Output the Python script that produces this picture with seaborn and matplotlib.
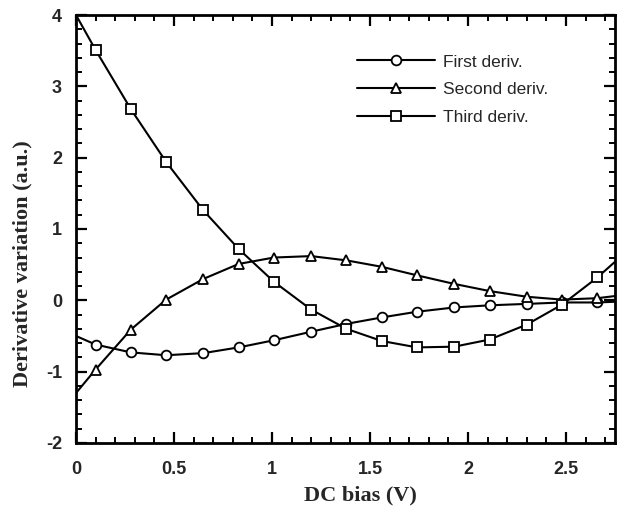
import numpy as np
import pandas as pd
import matplotlib
matplotlib.use("Agg")
import matplotlib.pyplot as plt
import seaborn as sns

# values (line runs 0 .. 2.75, markers only at inner points)
bias = [0.0, 0.10, 0.28, 0.46, 0.65, 0.83, 1.01, 1.20, 1.38, 1.56, 1.74, 1.93, 2.11, 2.30, 2.48, 2.66, 2.75]
first_deriv = [-0.50, -0.62, -0.73, -0.77, -0.74, -0.66, -0.56, -0.44, -0.33, -0.24, -0.16, -0.10, -0.07, -0.05, -0.03, -0.03, -0.02]
second_deriv = [-1.30, -0.97, -0.41, 0.01, 0.30, 0.51, 0.60, 0.62, 0.56, 0.47, 0.35, 0.23, 0.13, 0.05, 0.01, 0.03, 0.06]
third_deriv = [4.00, 3.51, 2.68, 1.94, 1.26, 0.72, 0.26, -0.13, -0.40, -0.57, -0.66, -0.65, -0.55, -0.34, -0.06, 0.32, 0.54]

series = {
    "First deriv.": (first_deriv, "o", 7),
    "Second deriv.": (second_deriv, "^", 7),
    "Third deriv.": (third_deriv, "s", 6.5),
}

sns.set_style("ticks")
plt.rcParams["font.family"] = ["Liberation Sans", "DejaVu Sans"]
plt.rcParams["axes.unicode_minus"] = False

fig = plt.figure(figsize=(6.29, 5.12), dpi=100)
ax = fig.add_axes([0.1208, 0.1348, 0.8569, 0.8359])

for name, (vals, mk, ms) in series.items():
    df = pd.DataFrame({"bias": bias, "val": vals})
    sns.lineplot(data=df, x="bias", y="val", ax=ax, color="black", lw=1.5,
                 marker=mk, markersize=ms,
                 markerfacecolor="white", markeredgecolor="black",
                 markeredgewidth=1.3, markevery=slice(1, -1), label=name)

ax.set_xlim(0, 2.75)
ax.set_ylim(-2, 4)
ax.set_xticks([0, 0.5, 1, 1.5, 2, 2.5])
ax.set_xticklabels(["0", "0.5", "1", "1.5", "2", "2.5"])
ax.set_yticks([-2, -1, 0, 1, 2, 3, 4])
ax.set_xticks(np.arange(0, 2.76, 0.1), minor=True)
ax.set_yticks(np.arange(-2, 4.01, 0.2), minor=True)

for s in ax.spines.values():
    s.set_linewidth(2)
    s.set_color("black")
ax.tick_params(which="both", direction="in", top=True, right=True, color="black")
ax.tick_params(which="major", length=8, width=1.6, labelsize=13)
ax.tick_params(which="minor", length=4.5, width=1.4)
ax.tick_params(axis="x", which="major", pad=13)
ax.tick_params(axis="y", which="major", pad=10)
for lab in ax.get_xticklabels() + ax.get_yticklabels():
    lab.set_fontweight("bold")

ax.set_xlabel("DC bias (V)", fontfamily="Liberation Serif", fontweight="bold", fontsize=16)
ax.set_ylabel("Derivative variation (a.u.)", fontfamily="Liberation Serif", fontweight="bold", fontsize=16)
ax.xaxis.set_label_coords(0.527, -0.1)
ax.yaxis.set_label_coords(-0.08, 0.42)

ax.legend(loc="upper left", bbox_to_anchor=(0.521, 0.908), frameon=False,
          fontsize=12.5, handlelength=4.5, handletextpad=0.45, labelspacing=0.72,
          borderpad=0, borderaxespad=0)

fig.savefig("out.png", dpi=100)
